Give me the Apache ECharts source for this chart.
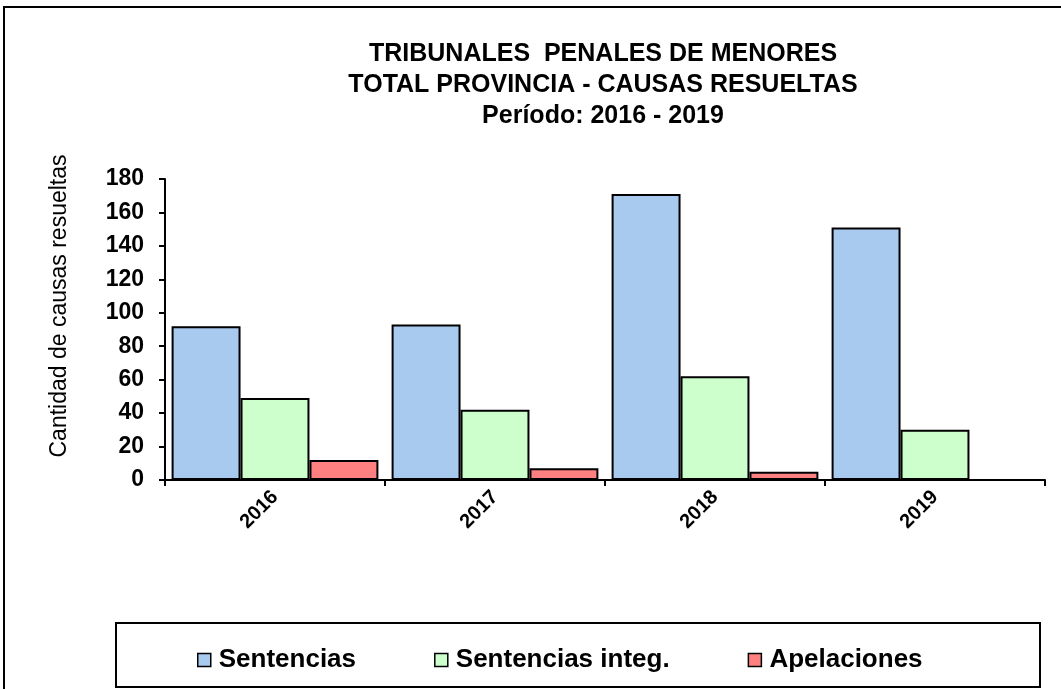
<!DOCTYPE html>
<html>
<head>
<meta charset="utf-8">
<script src="https://cdn.jsdelivr.net/npm/echarts@6/dist/echarts.min.js"></script>
<style>
  html, body { margin: 0; padding: 0; background: #fff; }
  #main { width: 1061px; height: 689px; }
</style>
</head>
<body>
<div id="main"></div>
<script>
// datos
var years = ["2016", "2017", "2018", "2019"];
var sentencias = [92, 93, 171, 151];
var sentenciasInteg = [49, 42, 62, 30];
var apelaciones = [12, 7, 5, 0];
var yTicks = [0, 20, 40, 60, 80, 100, 120, 140, 160, 180];

var chart = echarts.init(document.getElementById("main"));
var font = "'Liberation Sans', Arial, sans-serif";

function barSeries(name, data, color) {
  return {
    name: name,
    type: "bar",
    data: data,
    barGap: "0%",
    barCategoryGap: "6%",
    itemStyle: { color: color, borderColor: "#000", borderWidth: 2 }
  };
}

chart.setOption({
  animation: false,
  backgroundColor: "#fff",
  textStyle: { fontFamily: font },
  title: {
    text: "TRIBUNALES  PENALES DE MENORES\nTOTAL PROVINCIA - CAUSAS RESUELTAS\nPeríodo: 2016 - 2019",
    left: 598,
    top: 34,
    textAlign: "center",
    textStyle: { fontFamily: font, fontSize: 25, fontWeight: "bold", color: "#000", lineHeight: 31 }
  },
  grid: { left: 165, right: 16, top: 179, bottom: 209, containLabel: false },
  xAxis: {
    type: "category",
    data: years,
    axisLine: { lineStyle: { color: "#000", width: 2 } },
    axisTick: { show: true, alignWithLabel: false, length: 6, lineStyle: { color: "#000", width: 2 } },
    axisLabel: { rotate: 45, color: "#000", fontSize: 20, fontWeight: "bold", margin: 14, fontFamily: font }
  },
  yAxis: {
    type: "value",
    min: yTicks[0],
    max: yTicks[yTicks.length - 1],
    interval: 20,
    splitLine: { show: false },
    axisLine: { show: true, lineStyle: { color: "#000", width: 2 } },
    axisTick: { show: true, length: 6, lineStyle: { color: "#000", width: 2 } },
    axisLabel: { color: "#000", fontSize: 23, fontWeight: "bold", margin: 21, fontFamily: font }
  },
  legend: {
    left: 192,
    top: 642,
    icon: "rect",
    itemWidth: 13,
    itemHeight: 13,
    itemGap: 78,
    itemStyle: { borderColor: "#000", borderWidth: 1.5 },
    textStyle: { color: "#000", fontSize: 26, fontWeight: "bold", fontFamily: font, padding: [0, 0, 0, 3] },
    data: ["Sentencias", "Sentencias integ.", "Apelaciones"]
  },
  graphic: [
    { type: "rect", shape: { x: 4, y: 7, width: 1080, height: 700 }, style: { fill: "none", stroke: "#000", lineWidth: 2 }, silent: true },
    { type: "rect", shape: { x: 116, y: 623, width: 924, height: 64 }, style: { fill: "none", stroke: "#000", lineWidth: 2 }, silent: true },
    {
      type: "text", x: 60, y: 306, rotation: Math.PI / 2, silent: true,
      style: { text: "Cantidad de causas resueltas", fill: "#000", font: "23px " + font, align: "center", verticalAlign: "middle" }
    }
  ],
  series: [
    barSeries("Sentencias", sentencias, "#A9CAEF"),
    barSeries("Sentencias integ.", sentenciasInteg, "#CCFFCC"),
    barSeries("Apelaciones", apelaciones, "#FF8080")
  ]
});
</script>
</body>
</html>
